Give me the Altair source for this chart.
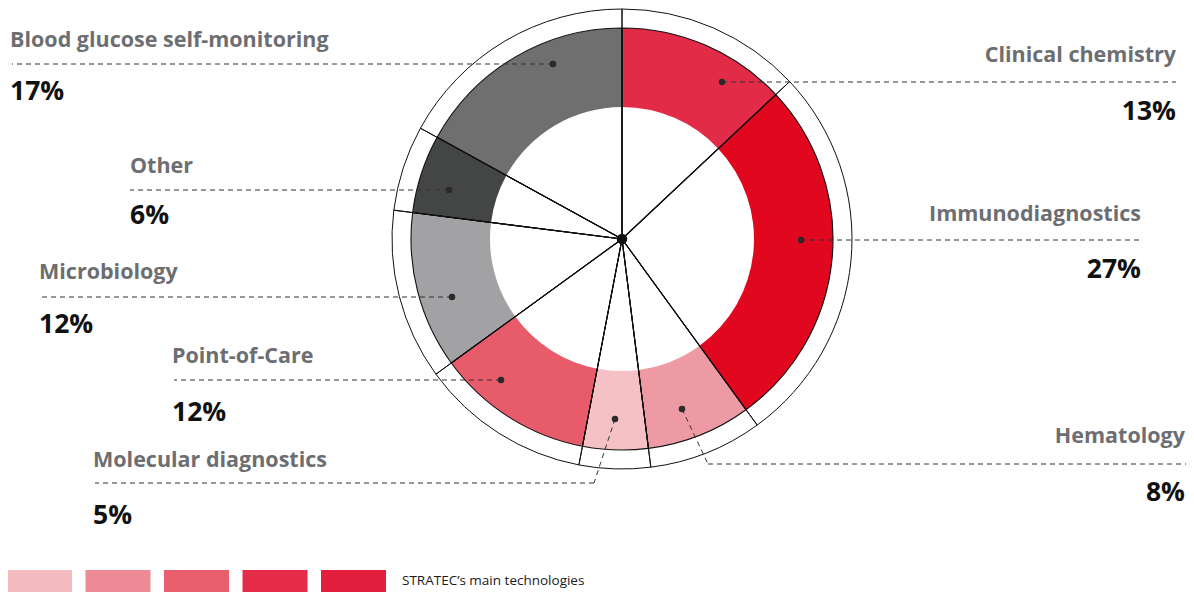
import altair as alt
import pandas as pd

# ---------------- data ----------------
categories = [
    "Clinical chemistry",
    "Immunodiagnostics",
    "Hematology",
    "Molecular diagnostics",
    "Point-of-Care",
    "Microbiology",
    "Other",
    "Blood glucose self-monitoring",
]
shares = [13, 27, 8, 5, 12, 12, 6, 17]
pct_labels = ["13%", "27%", "8%", "5%", "12%", "12%", "6%", "17%"]
seg_colors = ["#e22b46", "#e0071f", "#ee9aa5", "#f5c1c5", "#e75b6b", "#a2a2a4", "#444545", "#6f6f6f"]
legend_colors = ["#f4bcc0", "#ee8a95", "#ea5f6e", "#e42c48", "#e2203d"]
legend_caption = "STRATEC\u2019s main technologies"

# ---------------- layout (page pixels) ----------------
M = 8
W, H = 1178, 585
CX, CY = 622 - M, 239 - M
R_IN, R_OUT, R_RING = 132, 211, 230

layout = {
    "Clinical chemistry": dict(align="right", tx=1176, name_y=62, pct_y=120, dot=(722, 82), elbow=None, end=1176),
    "Immunodiagnostics": dict(align="right", tx=1141, name_y=221, pct_y=278, dot=(801, 240), elbow=None, end=1141),
    "Hematology": dict(align="right", tx=1185, name_y=443, pct_y=501, dot=(682, 409), elbow=(708, 464), end=1186),
    "Molecular diagnostics": dict(align="left", tx=93, name_y=467, pct_y=524, dot=(615, 419), elbow=(594, 483), end=95),
    "Point-of-Care": dict(align="left", tx=172, name_y=363, pct_y=421, dot=(501, 380), elbow=None, end=174),
    "Microbiology": dict(align="left", tx=39, name_y=279, pct_y=333, dot=(452, 297), elbow=None, end=40),
    "Other": dict(align="left", tx=130, name_y=173, pct_y=224, dot=(449, 190), elbow=None, end=130),
    "Blood glucose self-monitoring": dict(align="left", tx=10, name_y=47, pct_y=100, dot=(553, 64), elbow=None, end=12),
}

FONT = "Open Sans"

seg_df = pd.DataFrame({
    "category": categories,
    "share": shares,
    "idx": list(range(len(categories))),
})

# label / leader tables
txt_rows, seg_rows, dot_rows = [], [], []
for cat, pct in zip(categories, pct_labels):
    L = layout[cat]
    txt_rows.append(dict(name=cat, pct=pct, align=L["align"], x=L["tx"] - M,
                         name_y=L["name_y"] - M, pct_y=L["pct_y"] - M))
    dx, dy = L["dot"]
    dot_rows.append(dict(x=dx - M, y=dy - M))
    if L["elbow"] is not None:
        ex, ey = L["elbow"]
        seg_rows.append(dict(x=dx - M, y=dy - M, x2=ex - M, y2=ey - M))
        seg_rows.append(dict(x=ex - M, y=ey - M, x2=L["end"] - M, y2=ey - M))
    else:
        seg_rows.append(dict(x=dx - M, y=dy - M, x2=L["end"] - M, y2=dy - M))
txt_df = pd.DataFrame(txt_rows)
lead_df = pd.DataFrame(seg_rows)
dot_df = pd.DataFrame(dot_rows)

leg_df = pd.DataFrame({
    "c": legend_colors,
    "x": [7 - M + i * 78.5 for i in range(len(legend_colors))],
})
leg_df["x2"] = leg_df["x"] + 65
leg_df["y"] = 570 - M
leg_df["y2"] = 592 - M

X = lambda f: alt.X(f, type="quantitative", scale=None, axis=None)
Y = lambda f: alt.Y(f, type="quantitative", scale=None, axis=None)

theta = alt.Theta("share:Q", stack=True)
order = alt.Order("idx:Q")

base_arc = alt.Chart(seg_df)

donut = base_arc.mark_arc(radius=R_OUT, radius2=R_IN).encode(
    theta=theta,
    order=order,
    color=alt.Color("category:N", scale=alt.Scale(domain=categories, range=seg_colors), legend=None),
    x=alt.value(CX), y=alt.value(CY),
)

outline_inner = base_arc.mark_arc(radius=R_OUT, radius2=0, fillOpacity=0, stroke="#111",
                                  strokeWidth=1.1, strokeJoin="round").encode(
    theta=theta, order=order, x=alt.value(CX), y=alt.value(CY),
)
outline_ring = base_arc.mark_arc(radius=R_RING, radius2=0, fillOpacity=0, stroke="#111",
                                 strokeWidth=1.0, strokeJoin="round").encode(
    theta=theta, order=order, x=alt.value(CX), y=alt.value(CY),
)

center_dot = alt.Chart(seg_df.head(1)).mark_point(filled=True, size=110, color="#111", opacity=1).encode(
    x=alt.value(CX), y=alt.value(CY),
)

leaders = alt.Chart(lead_df).mark_rule(color="#333", strokeWidth=1, strokeDash=[5, 4]).encode(
    x=X("x"), y=Y("y"), x2="x2", y2="y2",
)
dots = alt.Chart(dot_df).mark_point(filled=True, size=42, color="#2a2a2a", opacity=1).encode(
    x=X("x"), y=Y("y"),
)

def names(al):
    return alt.Chart(txt_df).transform_filter(alt.datum.align == al).mark_text(
        align=al, baseline="alphabetic", font=FONT, fontSize=21.5, fontWeight="bold", color="#6d6e71",
    ).encode(x=X("x"), y=Y("name_y"), text="name:N")

def pcts(al):
    return alt.Chart(txt_df).transform_filter(alt.datum.align == al).mark_text(
        align=al, baseline="alphabetic", font=FONT, fontSize=26.5, fontWeight="bold", color="#111111",
    ).encode(x=X("x"), y=Y("pct_y"), text="pct:N")

leg_rects = alt.Chart(leg_df).mark_rect().encode(
    x=X("x"), x2="x2", y=Y("y"), y2="y2", color=alt.Color("c:N", scale=None),
)
leg_text = alt.Chart(pd.DataFrame({"t": [legend_caption]})).mark_text(
    align="left", baseline="middle", font=FONT, fontSize=13.5, color="#1a1a1a",
).encode(x=alt.value(402 - M), y=alt.value(581 - M), text="t:N")

chart = alt.layer(
    donut, outline_inner, outline_ring, leaders, dots, center_dot,
    names("left"), names("right"), pcts("left"), pcts("right"),
    leg_rects, leg_text,
).properties(
    width=W, height=H, padding=0, autosize=alt.AutoSizeParams(type="none"), background="white",
).configure_view(strokeWidth=0)

chart.save("out.html", embed_options={"renderer": "svg", "actions": False})
